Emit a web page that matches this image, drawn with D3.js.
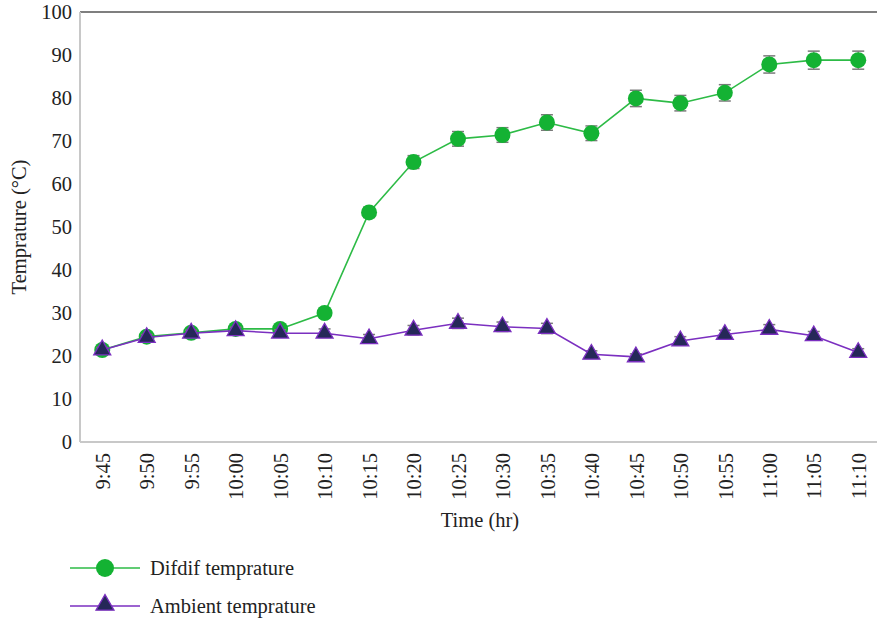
<!DOCTYPE html>
<html><head><meta charset="utf-8">
<script src="https://cdn.jsdelivr.net/npm/d3@7"></script>
<style>body{margin:0;background:#fff}svg{display:block}</style>
</head><body><svg id="c" width="877" height="622"></svg>
<script>
const times = ["9:45","9:50","9:55","10:00","10:05","10:10","10:15","10:20","10:25","10:30","10:35","10:40","10:45","10:50","10:55","11:00","11:05","11:10"];
const difdif = [21.4,24.5,25.4,26.3,26.3,30.0,53.4,65.1,70.5,71.4,74.3,71.8,79.9,78.8,81.2,87.8,88.8,88.8];
const difdifErr = [0.5,0.6,0.6,0.7,0.7,0.8,1.2,1.5,1.7,1.7,1.8,1.7,1.9,1.8,1.9,2.0,2.1,2.1];
const ambient = [21.4,24.3,25.3,25.9,25.3,25.3,24.0,26.0,27.6,26.8,26.4,20.4,19.8,23.5,25.0,26.2,24.7,20.8];
const ambientErr = [0.6,0.7,0.7,0.8,0.8,1.0,1.0,1.1,1.2,1.1,1.2,0.8,0.7,1.0,1.0,1.1,1.0,0.9];
const yTicks = [0,10,20,30,40,50,60,70,80,90,100];

const FONT = '"Liberation Serif","Times New Roman","DejaVu Serif",serif';
const FS = "20.5px";
const svg = d3.select("#c");
const L=80, T=12, B=442, step=44.47;
const x = d3.scalePoint().domain(times).range([L+step/2, L+step/2+step*17]);
const y = d3.scaleLinear().domain([0,100]).range([B,T]);

svg.append("line").attr("x1",L).attr("x2",877).attr("y1",T).attr("y2",T).attr("stroke","#555").attr("stroke-width",1.5);
svg.append("line").attr("x1",L).attr("x2",L).attr("y1",T).attr("y2",B).attr("stroke","#c8c8c8").attr("stroke-width",2);
svg.append("line").attr("x1",L).attr("x2",877).attr("y1",B).attr("y2",B).attr("stroke","#c8c8c8").attr("stroke-width",2);

const yAxis = d3.axisLeft(y).tickValues(yTicks).tickSize(0).tickPadding(8);
const gy = svg.append("g").attr("transform",`translate(${L},0)`).call(yAxis);
gy.select(".domain").remove();
gy.attr("font-family",null).attr("font-size",null);
gy.selectAll("text").style("font-size",FS).style("font-family",FONT).attr("fill","#222");

const xAxis = d3.axisBottom(x).tickSize(0).tickPadding(0);
const gx = svg.append("g").attr("transform",`translate(0,${B})`).call(xAxis);
gx.select(".domain").remove();
gx.attr("font-family",null).attr("font-size",null);
gx.selectAll("text").style("font-size",FS).style("font-family",FONT).attr("fill","#222")
  .attr("text-anchor","end").attr("transform","rotate(-90)").attr("dy","0.35em").attr("x",-11).attr("y",0);

function label(sel){ return sel.style("font-size",FS).style("font-family",FONT).attr("fill","#222"); }
label(svg.append("text").attr("x",480).attr("y",527).attr("text-anchor","middle")).text("Time (hr)");
label(svg.append("text").attr("transform","translate(26,227) rotate(-90)").attr("text-anchor","middle")).text("Temprature (°C)");

const green="#14b233", greenLine="#2dbb46", purple="#7b2fc0", navy="#252858", errC="#7a7a7a";

function drawErr(vals, errs){
  const g=svg.append("g");
  vals.forEach((v,i)=>{
    const cx=x(times[i]), y1=y(v+errs[i]), y2=y(v-errs[i]);
    g.append("line").attr("x1",cx).attr("x2",cx).attr("y1",y1).attr("y2",y2).attr("stroke",errC).attr("stroke-width",1.2);
    [y1,y2].forEach(yy=>g.append("line").attr("x1",cx-6).attr("x2",cx+6).attr("y1",yy).attr("y2",yy).attr("stroke",errC).attr("stroke-width",1.5));
  });
}
const line = d3.line().x((d,i)=>x(times[i])).y(d=>y(d));

drawErr(difdif, difdifErr);
svg.append("path").datum(difdif).attr("d",line).attr("fill","none").attr("stroke",greenLine).attr("stroke-width",1.6);
svg.append("g").selectAll("circle").data(difdif).join("circle")
  .attr("cx",(d,i)=>x(times[i])).attr("cy",d=>y(d)).attr("r",8).attr("fill",green);

drawErr(ambient, ambientErr);
svg.append("path").datum(ambient).attr("d",line).attr("fill","none").attr("stroke",purple).attr("stroke-width",1.6);
const tri = d3.symbol().type(d3.symbolTriangle).size(125);
svg.append("g").selectAll("path").data(ambient).join("path")
  .attr("d",tri).attr("transform",(d,i)=>`translate(${x(times[i])},${y(d)})`)
  .attr("fill",navy).attr("stroke",purple).attr("stroke-width",1.3);

const lg = svg.append("g");
lg.append("line").attr("x1",70).attr("x2",140).attr("y1",568).attr("y2",568).attr("stroke",greenLine).attr("stroke-width",1.6);
lg.append("circle").attr("cx",105).attr("cy",568).attr("r",9).attr("fill",green);
label(lg.append("text").attr("x",150).attr("y",575)).text("Difdif temprature");
lg.append("line").attr("x1",70).attr("x2",140).attr("y1",606).attr("y2",606).attr("stroke",purple).attr("stroke-width",1.6);
lg.append("path").attr("d",d3.symbol().type(d3.symbolTriangle).size(140)).attr("transform","translate(105,605)")
  .attr("fill",navy).attr("stroke",purple).attr("stroke-width",1.3);
label(lg.append("text").attr("x",150).attr("y",613)).text("Ambient temprature");
</script></body></html>
